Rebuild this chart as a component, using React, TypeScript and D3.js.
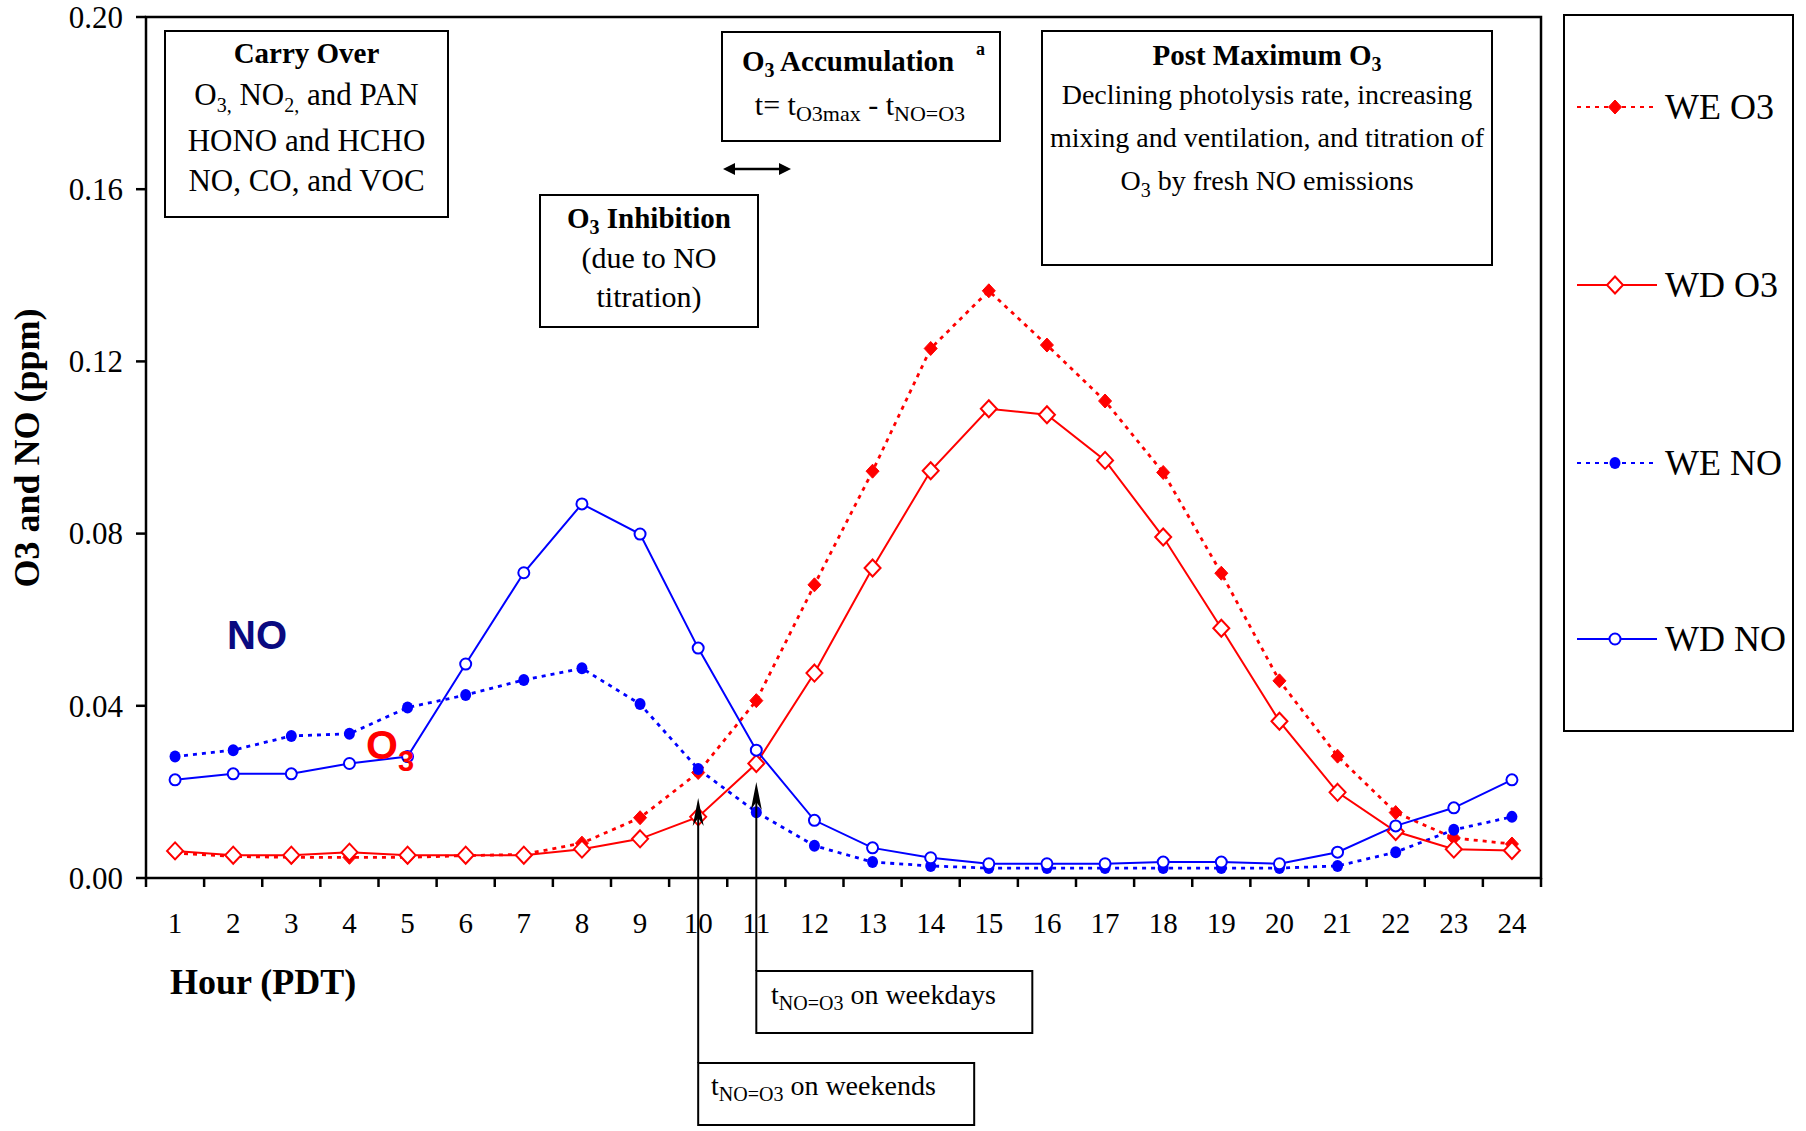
import React from 'react';
import * as d3 from 'd3';

const hours = [1, 2, 3, 4, 5, 6, 7, 8, 9, 10, 11, 12, 13, 14, 15, 16, 17, 18, 19, 20, 21, 22, 23, 24];
const weO3 = [0.0058, 0.005, 0.0048, 0.0048, 0.0048, 0.0052, 0.0055, 0.0081, 0.014, 0.0245, 0.0412, 0.0681, 0.0945, 0.123, 0.1364, 0.1238, 0.1108, 0.0942, 0.0708, 0.0458, 0.0283, 0.0152, 0.0093, 0.0079];
const wdO3 = [0.0063, 0.0053, 0.0053, 0.006, 0.0053, 0.0053, 0.0053, 0.0067, 0.0091, 0.0142, 0.0266, 0.0476, 0.072, 0.0946, 0.109, 0.1076, 0.097, 0.0792, 0.058, 0.0364, 0.0199, 0.0108, 0.0067, 0.0064];
const weNO = [0.0282, 0.0297, 0.033, 0.0335, 0.0396, 0.0425, 0.046, 0.0487, 0.0404, 0.0253, 0.0153, 0.0075, 0.0037, 0.0028, 0.0023, 0.0023, 0.0023, 0.0023, 0.0023, 0.0023, 0.0028, 0.006, 0.0112, 0.0142];
const wdNO = [0.0228, 0.0242, 0.0242, 0.0266, 0.0282, 0.0497, 0.0709, 0.0869, 0.0799, 0.0534, 0.0297, 0.0134, 0.007, 0.0047, 0.0033, 0.0033, 0.0033, 0.0037, 0.0037, 0.0033, 0.006, 0.0121, 0.0163, 0.0228];
const yTicks = [0, 0.04, 0.08, 0.12, 0.16, 0.2];
const seriesNames = ['WE O3', 'WD O3', 'WE NO', 'WD NO'];
// arrow annotations: hour and tip value
const arrowHours = [10, 11];
const arrowTips = [0.0186, 0.0223];

const SERIF = '"Liberation Serif", "Times New Roman", serif';
const SANS = '"Liberation Sans", Arial, sans-serif';
const RED = '#ff0000';
const BLUE = '#0000ff';

const W = 1806, H = 1131;
const left = 146, right = 1541, top = 17, bottom = 878;

const x = d3.scaleBand<number>().domain(hours).range([left, right]).padding(0);
const bw = x.bandwidth();
const cx = (h: number) => (x(h) as number) + bw / 2;
const y = d3.scaleLinear().domain([0, 0.2]).range([bottom, top]);

const lineGen = (vals: number[]) =>
  d3.line<number>().x((_, i) => cx(hours[i])).y((d) => y(d))(vals) as string;

const diamond = (px: number, py: number, w: number, h: number) => {
  const p = d3.path();
  p.moveTo(px, py - h);
  p.lineTo(px + w, py);
  p.lineTo(px, py + h);
  p.lineTo(px - w, py);
  p.closePath();
  return p.toString();
};

const dotted = '4 5';

function Marker({ kind, px, py }: { kind: number; px: number; py: number }) {
  if (kind === 0) return <path d={diamond(px, py, 6.5, 7)} fill={RED} stroke={RED} strokeWidth={1} />;
  if (kind === 1) return <path d={diamond(px, py, 8, 8.5)} fill="#fff" stroke={RED} strokeWidth={2} />;
  if (kind === 2) return <ellipse cx={px} cy={py} rx={5.5} ry={6} fill={BLUE} />;
  return <circle cx={px} cy={py} r={5.5} fill="#fff" stroke={BLUE} strokeWidth={2} />;
}

const seriesData = [weO3, wdO3, weNO, wdNO];
const seriesColor = [RED, RED, BLUE, BLUE];
const seriesDash = [dotted, undefined, dotted, undefined];
const seriesWidth = [2.8, 2, 2.8, 2];
const drawOrder = [0, 2, 1, 3];
const legendY = [107, 285, 463, 639];

export default function App() {
  const sub = 20;
  return (
    <div style={{ position: 'absolute', left: 0, top: 0 }}>
      <style>{`body{margin:0}`}</style>
      <svg width={W} height={H} viewBox={`0 0 ${W} ${H}`} style={{ display: 'block', background: '#fff' }}>
        <rect x={0} y={0} width={W} height={H} fill="#fff" />
        {/* plot frame */}
        <rect x={left} y={top} width={right - left} height={bottom - top} fill="none" stroke="#000" strokeWidth={2.5} />
        {/* y ticks */}
        {yTicks.map((t) => (
          <g key={t}>
            <line x1={left - 10} x2={left} y1={y(t)} y2={y(t)} stroke="#000" strokeWidth={2.5} />
            <text x={left - 23} y={y(t)} dy="0.35em" textAnchor="end" fontFamily={SERIF} fontSize={31}>
              {t.toFixed(2)}
            </text>
          </g>
        ))}
        {/* x ticks at band edges */}
        {hours.map((h) => (
          <line key={'t' + h} x1={x(h) as number} x2={x(h) as number} y1={bottom} y2={bottom + 9} stroke="#000" strokeWidth={2.5} />
        ))}
        <line x1={right} x2={right} y1={bottom} y2={bottom + 9} stroke="#000" strokeWidth={2.5} />
        {hours.map((h) => (
          <text key={'l' + h} x={cx(h)} y={933} textAnchor="middle" fontFamily={SERIF} fontSize={29}>
            {h}
          </text>
        ))}
        {/* axis titles */}
        <text transform="translate(39,448) rotate(-90)" textAnchor="middle" fontFamily={SERIF} fontWeight="bold" fontSize={36}>
          O3 and NO (ppm)
        </text>
        <text x={170} y={994} fontFamily={SERIF} fontWeight="bold" fontSize={36}>
          Hour (PDT)
        </text>

        {/* series lines */}
        {drawOrder.map((s) => (
          <path key={'ln' + s} d={lineGen(seriesData[s])} fill="none" stroke={seriesColor[s]} strokeWidth={seriesWidth[s]} strokeDasharray={seriesDash[s]} />
        ))}
        {drawOrder.map((s) => (
          <g key={'mk' + s}>
            {seriesData[s].map((v, i) => (
              <Marker key={i} kind={s} px={cx(hours[i])} py={y(v)} />
            ))}
          </g>
        ))}

        {/* NO / O3 labels */}
        <text x={227} y={649} fontFamily={SANS} fontWeight="bold" fontSize={40} fill="#0a0a80">NO</text>
        <text x={366} y={759} fontFamily={SANS} fontWeight="bold" fontSize={41} fill={RED}>
          O<tspan fontSize={29} dy={12}>3</tspan>
        </text>

        {/* Carry Over box */}
        <rect x={165} y={31} width={283} height={186} fill="#fff" stroke="#000" strokeWidth={2} />
        <g fontFamily={SERIF} fontSize={31} textAnchor="middle">
          <text x={306.5} y={63} fontWeight="bold" fontSize={29}>Carry Over</text>
          <text x={306.5} y={105}>
            O<tspan fontSize={sub} dy={7}>3,</tspan><tspan dy={-7}> NO</tspan><tspan fontSize={sub} dy={7}>2,</tspan><tspan dy={-7}> and PAN</tspan>
          </text>
          <text x={306.5} y={151}>HONO and HCHO</text>
          <text x={306.5} y={191}>NO, CO, and VOC</text>
        </g>

        {/* O3 Accumulation box */}
        <rect x={722} y={32} width={278} height={109} fill="#fff" stroke="#000" strokeWidth={2} />
        <text x={848} y={71} textAnchor="middle" fontFamily={SERIF} fontWeight="bold" fontSize={29}>
          O<tspan fontSize={sub} dy={6}>3</tspan><tspan dy={-6}> Accumulation</tspan>
        </text>
        <text x={976} y={55} fontFamily={SERIF} fontWeight="bold" fontSize={18}>a</text>
        <text x={860} y={115} textAnchor="middle" fontFamily={SERIF} fontSize={30}>
          t= t<tspan fontSize={22} dy={6}>O3max</tspan><tspan dy={-6}> - t</tspan><tspan fontSize={22} dy={6}>NO=O3</tspan>
        </text>
        {/* double arrow */}
        <line x1={731} x2={782} y1={169} y2={169} stroke="#000" strokeWidth={2.5} />
        <path d="M723,169 L735,163 L735,175 Z" fill="#000" />
        <path d="M791,169 L779,163 L779,175 Z" fill="#000" />

        {/* O3 Inhibition box */}
        <rect x={540} y={195} width={218} height={132} fill="#fff" stroke="#000" strokeWidth={2} />
        <g fontFamily={SERIF} fontSize={30} textAnchor="middle">
          <text x={649} y={228} fontWeight="bold" fontSize={29}>
            O<tspan fontSize={sub} dy={6}>3</tspan><tspan dy={-6}> Inhibition</tspan>
          </text>
          <text x={649} y={268}>(due to NO</text>
          <text x={649} y={307}>titration)</text>
        </g>

        {/* Post Maximum box */}
        <rect x={1042} y={31} width={450} height={234} fill="#fff" stroke="#000" strokeWidth={2} />
        <g fontFamily={SERIF} fontSize={28} textAnchor="middle">
          <text x={1267} y={65} fontWeight="bold" fontSize={29}>
            Post Maximum O<tspan fontSize={sub} dy={6}>3</tspan>
          </text>
          <text x={1267} y={104}>Declining photolysis rate, increasing</text>
          <text x={1267} y={147}>mixing and ventilation, and titration of</text>
          <text x={1267} y={190}>
            O<tspan fontSize={sub} dy={7}>3</tspan><tspan dy={-7}> by fresh NO emissions</tspan>
          </text>
        </g>

        {/* vertical arrows */}
        {arrowHours.map((h, i) => {
          const ax = cx(h);
          const ty = y(arrowTips[i]);
          const by = i === 0 ? 1063 : 971;
          return (
            <g key={'ar' + h}>
              <line x1={ax} x2={ax} y1={ty + 18} y2={by} stroke="#000" strokeWidth={2} />
              <path d={`M${ax},${ty} L${ax + 5.5},${ty + 28} L${ax},${ty + 20} L${ax - 5.5},${ty + 28} Z`} fill="#000" />
            </g>
          );
        })}
        {/* weekday / weekend boxes */}
        <rect x={cx(11)} y={971} width={276} height={62} fill="#fff" stroke="#000" strokeWidth={2} />
        <text x={771} y={1004} fontFamily={SERIF} fontSize={28}>
          t<tspan fontSize={20} dy={6}>NO=O3</tspan><tspan dy={-6}> on weekdays</tspan>
        </text>
        <rect x={cx(10)} y={1063} width={276} height={62} fill="#fff" stroke="#000" strokeWidth={2} />
        <text x={711} y={1095} fontFamily={SERIF} fontSize={28}>
          t<tspan fontSize={20} dy={6}>NO=O3</tspan><tspan dy={-6}> on weekends</tspan>
        </text>

        {/* legend */}
        <rect x={1564} y={15} width={229} height={716} fill="#fff" stroke="#000" strokeWidth={2} />
        {seriesNames.map((name, s) => (
          <g key={'lg' + s}>
            <line x1={1577} x2={1657} y1={legendY[s]} y2={legendY[s]} stroke={seriesColor[s]} strokeWidth={2} strokeDasharray={seriesDash[s]} />
            <Marker kind={s} px={1615} py={legendY[s]} />
            <text x={1665} y={legendY[s] + 12} fontFamily={SERIF} fontSize={36}>{name}</text>
          </g>
        ))}
      </svg>
    </div>
  );
}
